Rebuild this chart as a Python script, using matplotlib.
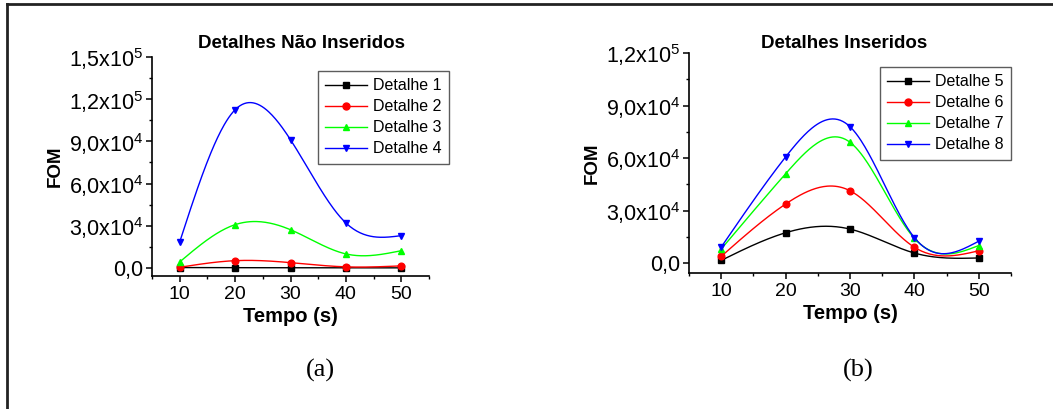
import numpy as np
import matplotlib
matplotlib.use('Agg')
import matplotlib.pyplot as plt
from matplotlib.lines import Line2D
from matplotlib.ticker import FixedLocator, MultipleLocator

plt.rcParams['font.family'] = ['Liberation Sans', 'DejaVu Sans']

tempo = [10, 20, 30, 40, 50]

# (a) Detalhes Nao Inseridos
det1 = [300, 200, 200, 100, 100]
det2 = [500, 5200, 3800, 800, 1500]
det3 = [4300, 30800, 27200, 10000, 12300]
det4 = [18500, 112500, 91200, 32000, 23000]

# (b) Detalhes Inseridos
det5 = [1500, 17300, 19400, 5700, 2900]
det6 = [3800, 33700, 41300, 9000, 7000]
det7 = [8000, 51000, 69000, 14100, 10000]
det8 = [9100, 60600, 77900, 14500, 12500]

left_ticks = [0, 30000, 60000, 90000, 120000, 150000]
left_labels = ['0,0', r'$\mathregular{3{,}0x10^4}$', r'$\mathregular{6{,}0x10^4}$',
               r'$\mathregular{9{,}0x10^4}$', r'$\mathregular{1{,}2x10^5}$', r'$\mathregular{1{,}5x10^5}$']
right_ticks = [0, 30000, 60000, 90000, 120000]
right_labels = left_labels[:5]


def natural_spline(x, y, n=200):
    x = np.asarray(x, float)
    y = np.asarray(y, float)
    k = len(x)
    h = np.diff(x)
    A = np.zeros((k, k))
    b = np.zeros(k)
    A[0, 0] = 1
    A[-1, -1] = 1
    for i in range(1, k - 1):
        A[i, i - 1] = h[i - 1]
        A[i, i] = 2 * (h[i - 1] + h[i])
        A[i, i + 1] = h[i]
        b[i] = 6 * ((y[i + 1] - y[i]) / h[i] - (y[i] - y[i - 1]) / h[i - 1])
    M = np.linalg.solve(A, b)
    xs = np.linspace(x[0], x[-1], n)
    idx = np.clip(np.searchsorted(x, xs) - 1, 0, k - 2)
    x0, x1 = x[idx], x[idx + 1]
    hh = x1 - x0
    t0, t1 = x1 - xs, xs - x0
    ys = (M[idx] * t0 ** 3 + M[idx + 1] * t1 ** 3) / (6 * hh) \
        + (y[idx] / hh - M[idx] * hh / 6) * t0 + (y[idx + 1] / hh - M[idx + 1] * hh / 6) * t1
    return xs, ys


def draw_panel(ax, series, names, ticks, labels, ymax, title, title_x, leg_box):
    colors = ['#000000', '#ff0000', '#00ff00', '#0000ff']
    markers = ['s', 'o', '^', 'v']
    handles = []
    for vals, c, m, nm in zip(series, colors, markers, names):
        xs, ys = natural_spline(tempo, vals)
        ax.plot(xs, ys, color=c, lw=1.0)
        ax.plot(tempo, vals, ls='none', marker=m, color=c, ms=4.8)
        handles.append(Line2D([], [], color=c, lw=1.0, marker=m, ms=5, label=nm))
    ax.set_xlim(5, 55)
    ax.set_ylim(-5700, ymax)
    ax.xaxis.set_major_locator(FixedLocator(tempo))
    ax.xaxis.set_minor_locator(MultipleLocator(5))
    ax.yaxis.set_major_locator(FixedLocator(ticks))
    ax.set_yticklabels(labels)
    ax.yaxis.set_minor_locator(MultipleLocator(15000))
    for s in ['top', 'right']:
        ax.spines[s].set_visible(False)
    for s in ['left', 'bottom']:
        ax.spines[s].set_linewidth(1.2)
    ax.spines['left'].set_bounds(-5700, ticks[-1])
    ax.tick_params(which='major', direction='out', length=4, width=1.1, pad=3)
    ax.tick_params(axis='x', labelsize=14)
    ax.tick_params(axis='y', labelsize=15.5, pad=2)
    ax.tick_params(which='minor', direction='out', length=2.5, width=1.0)
    ax.set_xlabel('Tempo (s)', fontsize=14.5, fontweight='bold', labelpad=3)
    ax.set_ylabel('FOM', fontsize=13.5, fontweight='bold', labelpad=4)
    fig.text(title_x, 1 - 43 / 409, title, fontsize=13.5, fontweight='bold', ha='center', va='center')
    leg = fig.legend(handles=handles, loc='upper left', bbox_to_anchor=leg_box,
                     bbox_transform=fig.transFigure, fontsize=11.5, frameon=True,
                     fancybox=False, edgecolor='#333333', handlelength=2.6,
                     labelspacing=0.38, borderpad=0.45, handletextpad=0.4, borderaxespad=0)
    leg.get_frame().set_linewidth(1.0)


fig = plt.figure(figsize=(10.53, 4.09), dpi=100)
ax1 = fig.add_axes([152 / 1053, 1 - 276 / 409, 277 / 1053, 219 / 409])
ax2 = fig.add_axes([689 / 1053, 1 - 273 / 409, 322 / 1053, 220 / 409])

draw_panel(ax1, [det1, det2, det3, det4], ['Detalhe 1', 'Detalhe 2', 'Detalhe 3', 'Detalhe 4'],
           left_ticks, left_labels, 150000, 'Detalhes Não Inseridos', 301 / 1053,
           (318 / 1053, 1 - 71 / 409))
draw_panel(ax2, [det5, det6, det7, det8], ['Detalhe 5', 'Detalhe 6', 'Detalhe 7', 'Detalhe 8'],
           right_ticks, right_labels, 120000, 'Detalhes Inseridos', 844 / 1053,
           (880 / 1053, 1 - 67 / 409))

fig.text(320 / 1053, 1 - 370 / 409, '(a)', fontsize=19, family='Liberation Serif', ha='center', va='center')
fig.text(858 / 1053, 1 - 370 / 409, '(b)', fontsize=19, family='Liberation Serif', ha='center', va='center')

# outer frame (top and left edges only)
fig.add_artist(Line2D([7 / 1053, 7 / 1053], [0, 1 - 4 / 409], transform=fig.transFigure, color='#222222', lw=2))
fig.add_artist(Line2D([7 / 1053, 1], [1 - 4 / 409, 1 - 4 / 409], transform=fig.transFigure, color='#222222', lw=2))

fig.savefig('out.png', dpi=100)
